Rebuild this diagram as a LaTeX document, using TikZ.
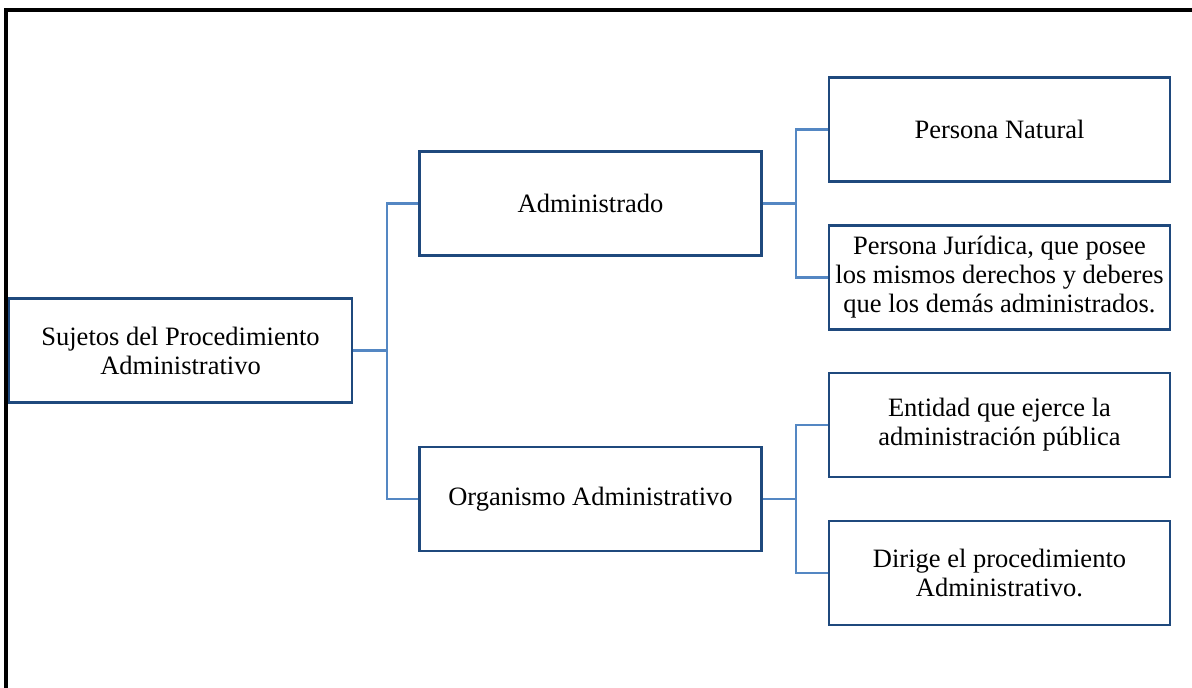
\documentclass[tikz,border=0pt]{standalone}
\usepackage{fontspec}
\setmainfont{Liberation Serif}
\definecolor{boxblue}{RGB}{31,73,125}
\definecolor{linkblue}{RGB}{84,135,195}
\begin{document}
\begin{tikzpicture}[x=1pt,y=-1pt,
  box/.style={draw=boxblue,line width=2.4pt,fill=white,minimum width=#1,minimum height=104pt,
    align=center,inner sep=1pt,font=\fontsize{26.5}{29}\selectfont},
  box/.default=342pt,
  link/.style={draw=linkblue,line width=2.3pt}]
\useasboundingbox (0,0) rectangle (1192,688);
\draw[line width=4pt] (6,688) -- (6,10) -- (1192,10);
\node[box=343pt] (S) at (180.5,350.5) {Sujetos del Procedimiento\\Administrativo};
\node[box] (A) at (590.5,203.5) {Administrado};
\node[box] (O) at (590.5,499) {Organismo Administrativo};
\node[box=341pt] (PN) at (999.5,129.5) {Persona Natural};
\node[box=341pt] (PJ) at (999.5,277.5) {Persona Jurídica, que posee\\los mismos derechos y deberes\\que los demás administrados.};
\node[box=341pt] (E) at (999.5,425) {Entidad que ejerce la\\administración pública};
\node[box=341pt] (D) at (999.5,573) {Dirige el procedimiento\\Administrativo.};
\draw[link] (S.east) -- ++(34,0) coordinate (j1);
\draw[link] (j1) |- (A.west);
\draw[link] (j1) |- (O.west);
\draw[link] (A.east) -- ++(33,0) coordinate (j2);
\draw[link] (j2) |- (PN.west);
\draw[link] (j2) |- (PJ.west);
\draw[link] (O.east) -- ++(33,0) coordinate (j3);
\draw[link] (j3) |- (E.west);
\draw[link] (j3) |- (D.west);
\end{tikzpicture}
\end{document}
